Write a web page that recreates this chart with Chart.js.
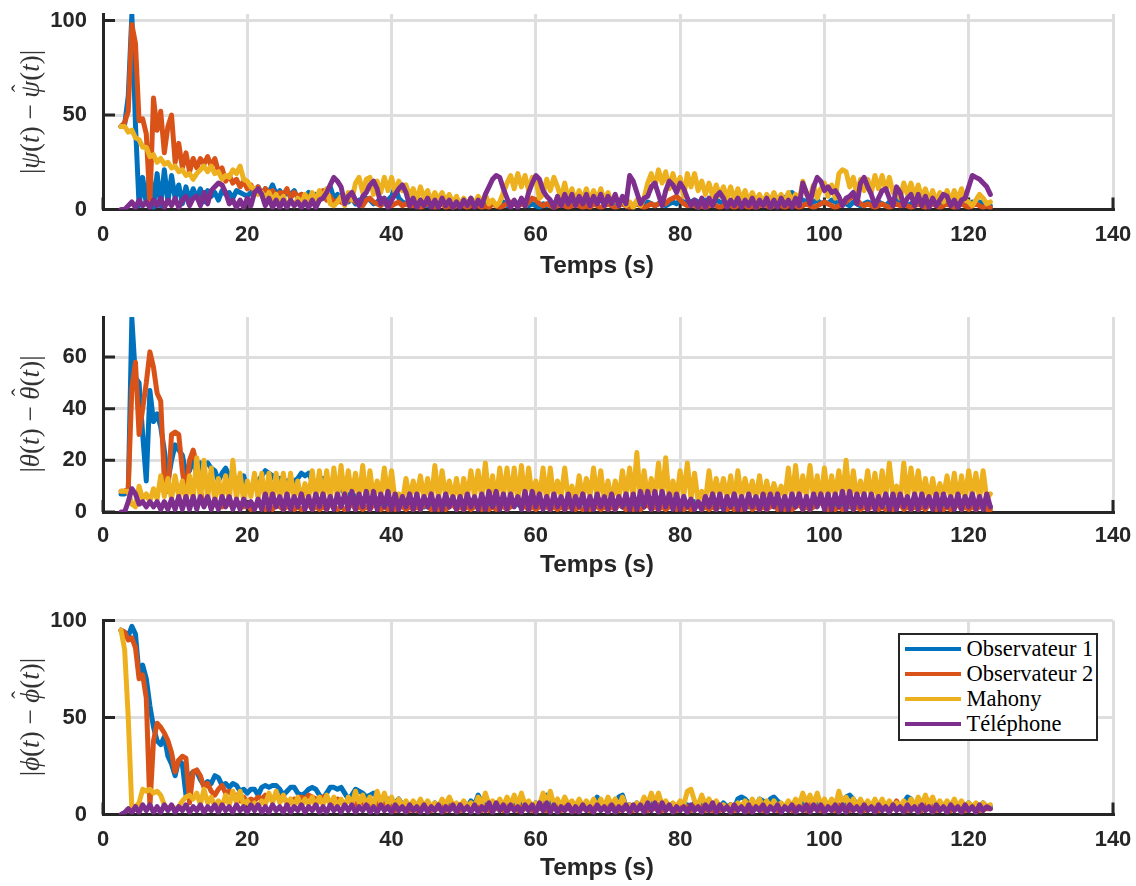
<!DOCTYPE html>
<html>
<head>
<meta charset="utf-8">
<script src="https://cdn.jsdelivr.net/npm/chart.js@4.4.0/dist/chart.umd.min.js"></script>
<style>
  html, body { margin: 0; padding: 0; background: #fff; }
  #wrap { position: relative; width: 1136px; height: 886px; overflow: hidden; }
  #wrap canvas { position: absolute; left: 0; }
  #legend {
    position: absolute; left: 898px; top: 633px; width: 200px; height: 108px;
    box-sizing: border-box; border: 2.5px solid #262626; background: #fff;
    font-family: 'Liberation Serif', 'DejaVu Serif', serif; font-size: 22.5px; color: #000;
    padding-top: 1px;
  }
  #legend .row { display: flex; align-items: center; height: 25px; }
  #legend .sw { width: 56px; height: 4px; margin-left: 4.5px; margin-right: 6px; }
  .ylab {
    position: absolute; left: 30px; white-space: nowrap;
    transform: translate(-50%, -50%) rotate(-90deg);
    font-family: 'Liberation Serif', 'DejaVu Serif', serif; font-size: 27px; color: #333;
    line-height: 1;
  }
  .ylab .hat { position: relative; display: inline-block; }
  .ylab .hat::before {
    content: '\02C6'; position: absolute; left: 55%; top: -0.32em;
    transform: translateX(-50%); font-style: normal; font-size: 0.85em;
  }
  .xlab {
    position: absolute; left: 597px; white-space: nowrap;
    transform: translate(-50%, -50%);
    font-family: 'Liberation Sans', Arial, sans-serif; font-weight: bold; font-size: 24.5px;
    color: #262626; line-height: 1;
  }
</style>
</head>
<body>
<div id="wrap">
  <canvas id="psi" width="1136" height="295" style="top:0px"></canvas>
  <canvas id="theta" width="1136" height="295" style="top:295px"></canvas>
  <canvas id="phi" width="1136" height="296" style="top:590px"></canvas>
  <div class="ylab" style="top:112px">|<i>ψ</i>(<i>t</i>) − <span class="hat"><i>ψ</i></span>(<i>t</i>)|</div>
  <div class="ylab" style="top:414px">|<i>θ</i>(<i>t</i>) − <span class="hat"><i>θ</i></span>(<i>t</i>)|</div>
  <div class="ylab" style="top:717px">|<i>ϕ</i>(<i>t</i>) − <span class="hat"><i>ϕ</i></span>(<i>t</i>)|</div>
  <div class="xlab" style="top:265px">Temps (s)</div>
  <div class="xlab" style="top:564px">Temps (s)</div>
  <div class="xlab" style="top:867px">Temps (s)</div>
  <div id="legend"></div>
</div>
<script>
// samples every 0.5 s, first one at t = 2.5 s (rows below = 10 s each, from t = 3)
const tStart = 2.5, tStep = 0.5;

const seriesNames = ['Observateur 1', 'Observateur 2', 'Mahony', 'Téléphone'];
const xTicks = [0, 20, 40, 60, 80, 100, 120, 140];
const psiTicks = [0, 50, 100];
const thetaTicks = [0, 20, 40, 60];
const phiTicks = [0, 50, 100];

// |psi - psi_hat|
const psiObs1 = [44,
  45, 60, 103, 45, 2, 17, 3, 20, 1, 19, 2, 21, 4, 18, 6, 13, 3, 12, 5, 11,
  6, 11, 4, 10, 7, 9, 5, 10, 8, 9, 6, 10, 9, 8, 7, 9, 10, 12, 8, 11,
  9, 13, 8, 10, 7, 9, 8, 10, 6, 8, 7, 9, 5, 8, 6, 7, 9, 12, 6, 8,
  5, 7, 4, 6, 3, 5, 4, 6, 5, 3, 4, 6, 3, 5, 7, 12, 6, 4, 3, 5,
  4, 3, 5, 4, 2, 4, 3, 5, 6, 4, 3, 2, 4, 3, 5, 4, 3, 2, 4, 3,
  2, 4, 3, 2, 3, 4, 2, 3, 4, 3, 5, 4, 2, 3, 2, 1, 3, 2, 4, 3,
  4, 3, 2, 4, 3, 5, 4, 3, 2, 4, 3, 4, 5, 3, 4, 2, 3, 4, 3, 2,
  3, 2, 4, 3, 2, 4, 3, 2, 3, 4, 2, 3, 4, 3, 5, 4, 3, 4, 5, 4,
  4, 5, 3, 4, 5, 4, 3, 5, 4, 6, 5, 4, 6, 5, 4, 5, 6, 5, 4, 6,
  5, 6, 7, 6, 8, 9, 7, 6, 5, 4, 3, 4, 5, 3, 4, 3, 5, 4, 3, 4,
  3, 2, 4, 3, 2, 3, 4, 3, 2, 4, 3, 2, 4, 3, 5, 4, 3, 2, 3, 4,
  3, 4, 3, 2, 4, 3, 2, 3, 4, 3, 2, 3, 4, 3, 2, 4, 3, 4, 3, 2,
  2];
const psiObs2 = [44,
  46, 52, 98, 88, 47, 48, 40, 3, 59, 42, 52, 30, 44, 50, 25, 35, 22, 30, 20, 27,
  22, 27, 24, 28, 23, 27, 20, 22, 15, 18, 14, 16, 12, 15, 11, 13, 9, 12, 8, 11,
  9, 10, 7, 9, 8, 11, 6, 9, 7, 8, 5, 7, 4, 6, 8, 10, 5, 7, 3, 5,
  4, 3, 5, 6, 4, 3, 2, 5, 6, 4, 3, 2, 4, 3, 2, 3, 4, 2, 3, 2,
  2, 3, 1, 2, 3, 2, 1, 2, 3, 1, 2, 1, 2, 3, 2, 1, 2, 3, 2, 1,
  2, 1, 3, 2, 1, 2, 3, 4, 3, 2, 3, 2, 4, 6, 5, 3, 2, 3, 2, 1,
  2, 3, 2, 1, 2, 3, 2, 1, 2, 1, 3, 2, 1, 2, 3, 2, 1, 2, 3, 2,
  1, 2, 3, 2, 1, 2, 3, 2, 3, 4, 3, 5, 6, 7, 5, 3, 2, 3, 2, 1,
  2, 1, 2, 3, 2, 1, 2, 3, 2, 1, 2, 3, 2, 1, 2, 1, 2, 3, 2, 1,
  2, 3, 2, 1, 2, 3, 2, 1, 2, 3, 2, 1, 2, 3, 4, 3, 2, 1, 2, 3,
  4, 6, 7, 5, 3, 2, 3, 2, 1, 2, 3, 2, 1, 2, 3, 2, 3, 2, 1, 2,
  3, 2, 1, 2, 3, 2, 1, 2, 3, 2, 1, 2, 3, 2, 1, 2, 3, 2, 1, 2,
  1];
const psiMahony = [44,
  44, 41, 42, 38, 37, 33, 33, 28, 29, 25, 27, 24, 25, 22, 23, 20, 21, 18, 19, 16,
  19, 21, 23, 20, 23, 19, 20, 16, 18, 17, 21, 19, 23, 16, 15, 12, 11, 8, 9, 6,
  9, 4, 8, 3, 7, 2, 5, 2, 6, 3, 8, 4, 9, 5, 10, 6, 11, 3, 2, 4,
  7, 2, 9, 5, 14, 17, 9, 16, 17, 8, 15, 9, 17, 10, 17, 9, 15, 10, 13, 7,
  11, 5, 12, 6, 10, 4, 9, 5, 9, 4, 8, 3, 7, 2, 6, 2, 6, 3, 7, 3,
  8, 3, 5, 2, 4, 9, 14, 18, 11, 19, 12, 18, 10, 17, 16, 6, 8, 16, 10, 17,
  12, 6, 14, 5, 11, 4, 10, 5, 11, 4, 10, 5, 11, 4, 9, 3, 7, 2, 6, 2,
  4, 1, 5, 2, 6, 14, 19, 12, 21, 14, 20, 11, 19, 12, 17, 7, 19, 12, 19, 10,
  15, 8, 14, 7, 13, 7, 12, 6, 12, 5, 11, 5, 10, 4, 9, 4, 8, 3, 8, 4,
  9, 4, 8, 3, 9, 4, 8, 4, 15, 8, 7, 13, 6, 11, 14, 7, 13, 6, 19, 21,
  20, 12, 17, 8, 16, 10, 16, 9, 18, 11, 18, 10, 17, 9, 10, 6, 14, 8, 14, 7,
  13, 6, 11, 4, 10, 4, 9, 4, 10, 4, 10, 5, 11, 5, 4, 2, 5, 8, 6, 3,
  4];
const psiPhone = [0,
  0, 2, 4, 1, 5, 2, 4, 1, 5, 2, 6, 1, 5, 2, 6, 1, 5, 7, 2, 6,
  7, 2, 9, 3, 10, 12, 14, 13, 9, 3, 5, 1, 5, 1, 6, 2, 9, 11, 8, 2,
  6, 1, 5, 1, 5, 1, 5, 2, 4, 1, 4, 1, 5, 1, 5, 6, 9, 13, 17, 15,
  12, 3, 7, 9, 5, 2, 7, 9, 13, 15, 11, 3, 6, 1, 5, 8, 11, 13, 9, 2,
  6, 1, 5, 2, 6, 1, 5, 1, 6, 2, 5, 1, 4, 1, 5, 2, 6, 1, 5, 2,
  8, 12, 16, 18, 17, 11, 6, 1, 5, 1, 6, 2, 9, 14, 18, 16, 10, 7, 5, 1,
  7, 2, 8, 3, 8, 2, 7, 3, 8, 2, 7, 3, 8, 2, 7, 3, 8, 2, 7, 3,
  18, 15, 9, 3, 6, 7, 12, 14, 8, 2, 10, 15, 13, 9, 14, 11, 6, 2, 5, 1,
  6, 1, 6, 2, 7, 9, 6, 1, 5, 2, 6, 1, 5, 2, 6, 1, 5, 2, 6, 1,
  5, 1, 6, 2, 5, 1, 6, 2, 14, 9, 3, 12, 17, 15, 10, 12, 9, 10, 7, 2,
  6, 7, 9, 3, 14, 17, 12, 8, 2, 6, 10, 11, 6, 2, 12, 9, 2, 6, 8, 2,
  8, 2, 7, 1, 6, 2, 5, 8, 7, 2, 5, 1, 5, 6, 12, 18, 17, 16, 14, 12,
  8];

// |theta - theta_hat|
const thetaObs1 = [7,
  7, 8, 75, 52, 50, 30, 12, 47, 35, 38, 33, 24, 12, 20, 26, 24, 22, 15, 16, 21,
  14, 19, 18, 19, 17, 16, 12, 15, 17, 14, 11, 13, 12, 14, 9, 8, 10, 12, 14, 16,
  15, 14, 12, 13, 11, 12, 10, 12, 13, 15, 14, 15, 12, 10, 11, 13, 12, 10, 11, 12,
  9, 7, 6, 8, 5, 6, 4, 5, 3, 4, 5, 3, 4, 2, 3, 4, 3, 2, 4, 3,
  2, 3, 4, 2, 3, 2, 4, 3, 2, 3, 2, 4, 3, 2, 3, 2, 3, 4, 2, 3,
  3, 2, 4, 3, 2, 3, 2, 3, 4, 3, 2, 3, 2, 4, 3, 2, 3, 2, 3, 4,
  2, 3, 2, 4, 3, 2, 3, 4, 2, 3, 2, 3, 4, 2, 3, 2, 4, 3, 2, 3,
  3, 4, 2, 3, 2, 4, 3, 2, 3, 4, 2, 3, 2, 3, 4, 2, 3, 2, 4, 3,
  2, 3, 4, 2, 3, 2, 3, 4, 2, 3, 4, 2, 3, 2, 3, 4, 2, 3, 2, 3,
  4, 2, 3, 2, 4, 3, 2, 3, 2, 4, 3, 2, 3, 4, 2, 3, 2, 3, 4, 2,
  3, 2, 4, 3, 2, 3, 2, 4, 3, 2, 3, 4, 2, 3, 2, 3, 4, 2, 3, 2,
  3, 4, 2, 3, 2, 3, 4, 2, 3, 2, 4, 3, 2, 3, 2, 4, 3, 2, 3, 2,
  2];
const thetaObs2 = [8,
  8, 9, 48, 58, 30, 40, 50, 62, 56, 46, 43, 12, 8, 30, 31, 30, 16, 6, 20, 24,
  18, 8, 3, 5, 2, 4, 3, 2, 4, 3, 2, 4, 3, 2, 3, 1, 2, 3, 2, 1,
  2, 1, 3, 2, 1, 2, 3, 1, 2, 1, 2, 3, 1, 2, 1, 2, 1, 3, 2, 1,
  2, 1, 2, 3, 1, 2, 1, 2, 1, 3, 2, 1, 2, 1, 2, 1, 3, 2, 1, 2,
  1, 2, 1, 3, 2, 1, 2, 1, 2, 1, 2, 3, 1, 2, 1, 2, 1, 2, 3, 1,
  2, 1, 2, 1, 3, 2, 1, 2, 3, 4, 3, 2, 1, 2, 1, 2, 3, 2, 1, 2,
  1, 2, 1, 2, 3, 1, 2, 1, 2, 1, 3, 2, 1, 2, 1, 2, 1, 3, 2, 1,
  2, 1, 2, 1, 2, 3, 1, 2, 1, 2, 1, 2, 3, 1, 2, 1, 2, 1, 2, 3,
  1, 2, 1, 2, 1, 3, 2, 1, 2, 1, 2, 1, 2, 3, 1, 2, 1, 2, 1, 2,
  3, 1, 2, 1, 2, 1, 2, 3, 1, 2, 1, 2, 3, 4, 2, 1, 2, 1, 2, 1,
  2, 3, 1, 2, 1, 2, 1, 2, 3, 1, 2, 1, 2, 1, 2, 3, 1, 2, 1, 2,
  1, 2, 1, 3, 2, 1, 2, 1, 2, 1, 2, 3, 1, 2, 1, 2, 1, 2, 3, 1,
  1];
const thetaMahony = [8,
  8, 8, 3, 2, 10, 5, 7, 4, 9, 5, 14, 6, 13, 5, 14, 6, 12, 4, 14, 5,
  21, 4, 20, 5, 17, 4, 13, 5, 14, 4, 20, 5, 15, 4, 12, 6, 15, 5, 15, 4,
  15, 4, 15, 5, 15, 4, 15, 5, 12, 4, 11, 5, 16, 5, 16, 4, 16, 5, 17, 5,
  18, 5, 16, 6, 15, 5, 18, 4, 16, 5, 12, 6, 17, 5, 16, 4, 7, 4, 13, 5,
  12, 6, 14, 5, 13, 4, 18, 5, 16, 6, 12, 5, 13, 4, 13, 5, 16, 6, 16, 5,
  19, 5, 14, 4, 17, 6, 17, 5, 17, 4, 18, 5, 17, 6, 12, 5, 17, 4, 17, 5,
  12, 6, 17, 5, 10, 4, 14, 5, 13, 6, 17, 5, 16, 4, 12, 4, 12, 5, 16, 6,
  17, 5, 23, 4, 16, 5, 13, 6, 19, 5, 21, 4, 12, 5, 16, 6, 19, 5, 15, 4,
  8, 4, 16, 5, 13, 6, 13, 5, 14, 4, 16, 5, 13, 6, 12, 5, 14, 4, 12, 5,
  11, 6, 10, 5, 17, 4, 18, 5, 14, 6, 18, 5, 14, 4, 17, 5, 14, 6, 16, 5,
  20, 4, 16, 5, 12, 6, 16, 5, 15, 4, 16, 5, 19, 6, 10, 4, 19, 5, 17, 6,
  16, 5, 13, 4, 13, 5, 11, 6, 14, 5, 15, 4, 14, 5, 16, 6, 15, 5, 16, 5,
  7];
const thetaPhone = [0,
  0, 4, 9, 7, 3, 4, 2, 4, 2, 4, 1, 4, 1, 5, 1, 6, 1, 6, 1, 6,
  1, 6, 2, 6, 1, 5, 1, 6, 2, 6, 1, 5, 1, 5, 2, 4, 1, 5, 1, 7,
  1, 7, 2, 6, 1, 7, 1, 6, 2, 7, 1, 6, 1, 7, 2, 7, 1, 6, 1, 7,
  2, 7, 1, 8, 1, 7, 2, 8, 1, 8, 1, 7, 2, 8, 1, 7, 1, 6, 2, 7,
  1, 7, 1, 6, 2, 7, 1, 6, 1, 7, 2, 6, 1, 6, 1, 7, 2, 6, 1, 7,
  1, 8, 2, 8, 1, 7, 1, 7, 2, 6, 1, 8, 1, 8, 2, 7, 1, 6, 1, 7,
  2, 6, 1, 7, 1, 6, 2, 7, 1, 6, 1, 7, 2, 6, 1, 7, 1, 6, 2, 7,
  1, 7, 1, 8, 2, 8, 1, 8, 1, 8, 2, 7, 1, 7, 1, 6, 2, 5, 1, 4,
  1, 6, 2, 7, 1, 7, 1, 6, 2, 7, 1, 6, 1, 7, 2, 6, 1, 7, 1, 7,
  2, 7, 1, 6, 1, 7, 2, 7, 1, 6, 1, 7, 2, 7, 1, 7, 1, 7, 2, 8,
  1, 8, 1, 7, 2, 7, 1, 7, 1, 6, 2, 7, 1, 7, 1, 7, 2, 6, 1, 7,
  1, 7, 2, 6, 1, 7, 1, 7, 2, 6, 1, 7, 1, 6, 2, 7, 1, 6, 1, 7,
  2];

// |phi - phi_hat|
const phiObs1 = [95,
  94, 92, 97, 93, 72, 77, 70, 56, 45, 38, 36, 40, 30, 26, 20, 28, 26, 10, 20, 22,
  22, 18, 15, 17, 16, 20, 19, 15, 16, 14, 16, 15, 12, 13, 11, 13, 13, 10, 14, 15,
  14, 15, 15, 13, 10, 12, 14, 14, 11, 10, 11, 13, 14, 13, 10, 8, 11, 14, 14, 13,
  14, 11, 8, 10, 13, 12, 11, 9, 10, 11, 9, 8, 7, 8, 7, 6, 8, 5, 6, 4,
  5, 3, 6, 4, 5, 3, 6, 4, 5, 3, 6, 4, 5, 3, 6, 4, 7, 5, 10, 6,
  5, 3, 6, 4, 5, 3, 6, 4, 5, 3, 6, 4, 5, 3, 6, 4, 9, 10, 6, 4,
  5, 3, 6, 4, 5, 3, 6, 4, 5, 3, 6, 9, 5, 3, 6, 4, 5, 9, 10, 4,
  5, 3, 6, 4, 5, 3, 6, 4, 5, 3, 6, 4, 5, 3, 6, 4, 5, 3, 6, 4,
  5, 3, 6, 4, 5, 3, 6, 4, 5, 3, 8, 9, 8, 6, 5, 3, 8, 7, 5, 8,
  9, 7, 5, 3, 6, 4, 5, 3, 6, 4, 5, 3, 6, 4, 5, 3, 6, 4, 5, 3,
  9, 10, 8, 5, 6, 4, 5, 3, 6, 4, 5, 3, 6, 4, 5, 3, 6, 9, 8, 4,
  5, 3, 6, 4, 5, 3, 6, 4, 5, 3, 6, 4, 5, 3, 6, 4, 5, 3, 6, 4,
  4];
const phiObs2 = [95,
  94, 90, 91, 86, 70, 72, 60, 4, 38, 47, 45, 42, 38, 32, 22, 28, 30, 29, 6, 22,
  23, 20, 14, 16, 12, 10, 13, 15, 11, 12, 9, 10, 7, 9, 6, 8, 7, 9, 8, 10,
  9, 8, 10, 9, 8, 7, 6, 8, 7, 9, 8, 10, 9, 8, 7, 9, 8, 7, 6, 8,
  7, 5, 8, 6, 5, 7, 6, 4, 5, 3, 6, 4, 5, 3, 4, 2, 5, 3, 4, 2,
  4, 2, 5, 3, 4, 2, 4, 3, 5, 2, 4, 3, 5, 2, 4, 3, 6, 3, 4, 2,
  4, 2, 5, 3, 4, 2, 5, 3, 4, 2, 4, 3, 5, 2, 4, 3, 5, 2, 4, 3,
  4, 2, 5, 3, 4, 2, 4, 3, 5, 2, 4, 3, 5, 3, 6, 3, 4, 2, 5, 3,
  4, 2, 4, 3, 5, 2, 4, 3, 5, 2, 4, 3, 4, 2, 5, 3, 4, 2, 5, 3,
  4, 2, 4, 2, 3, 2, 4, 3, 5, 2, 4, 3, 5, 2, 4, 3, 5, 2, 4, 3,
  4, 2, 5, 3, 4, 2, 5, 3, 4, 2, 5, 3, 4, 2, 5, 3, 4, 2, 5, 3,
  4, 2, 5, 3, 4, 2, 4, 3, 5, 2, 4, 3, 5, 3, 7, 3, 4, 2, 5, 3,
  4, 2, 5, 3, 4, 2, 4, 3, 5, 2, 4, 3, 5, 2, 4, 3, 4, 2, 5, 3,
  3];
const phiMahony = [95,
  85, 50, 3, 4, 6, 13, 12, 13, 11, 12, 10, 5, 3, 4, 3, 4, 7, 9, 10, 8,
  11, 5, 13, 6, 9, 4, 7, 4, 10, 5, 12, 6, 12, 5, 7, 4, 6, 4, 7, 5,
  11, 6, 12, 6, 10, 5, 8, 4, 9, 4, 8, 5, 9, 4, 9, 5, 10, 5, 9, 4,
  8, 4, 9, 5, 12, 6, 10, 5, 9, 4, 12, 6, 11, 5, 9, 4, 8, 4, 7, 4,
  7, 4, 8, 4, 7, 4, 6, 4, 8, 5, 9, 5, 6, 4, 7, 4, 6, 4, 9, 5,
  11, 5, 7, 4, 8, 4, 9, 5, 10, 5, 11, 5, 7, 4, 6, 5, 11, 6, 12, 5,
  8, 4, 9, 5, 7, 4, 8, 4, 7, 4, 8, 4, 8, 4, 9, 5, 8, 4, 9, 4,
  5, 3, 6, 4, 9, 5, 11, 6, 11, 5, 7, 4, 6, 4, 7, 5, 12, 13, 7, 5,
  10, 5, 8, 4, 7, 4, 5, 3, 5, 4, 6, 4, 7, 4, 8, 4, 8, 4, 7, 4,
  7, 4, 6, 4, 7, 4, 8, 5, 11, 6, 10, 5, 11, 5, 8, 4, 8, 4, 12, 6,
  9, 5, 8, 4, 8, 4, 7, 4, 8, 4, 8, 4, 7, 4, 6, 4, 7, 4, 8, 4,
  9, 5, 10, 5, 9, 4, 7, 4, 7, 4, 8, 4, 7, 4, 6, 4, 6, 4, 6, 4,
  5];
const phiPhone = [0,
  1, 3, 1, 4, 1, 5, 2, 5, 1, 4, 1, 5, 2, 5, 1, 4, 2, 5, 1, 4,
  2, 5, 1, 4, 2, 5, 1, 5, 2, 4, 1, 5, 2, 4, 1, 5, 2, 5, 1, 4,
  1, 5, 2, 4, 1, 5, 1, 4, 2, 5, 1, 4, 2, 5, 1, 4, 1, 5, 2, 4,
  1, 5, 2, 5, 1, 4, 2, 5, 1, 4, 1, 5, 2, 4, 1, 5, 2, 4, 1, 5,
  2, 4, 1, 5, 1, 4, 2, 5, 1, 4, 2, 5, 1, 5, 2, 4, 1, 5, 1, 4,
  2, 6, 1, 6, 2, 5, 1, 5, 2, 4, 1, 5, 2, 5, 1, 6, 2, 6, 1, 5,
  1, 4, 2, 5, 1, 4, 1, 5, 2, 4, 1, 5, 2, 4, 1, 5, 1, 4, 2, 5,
  1, 5, 2, 5, 1, 6, 2, 6, 1, 6, 2, 5, 1, 4, 2, 4, 1, 5, 2, 4,
  1, 5, 2, 6, 1, 5, 2, 4, 1, 5, 2, 4, 1, 5, 1, 4, 2, 5, 1, 4,
  2, 5, 1, 4, 2, 5, 1, 4, 2, 5, 1, 5, 2, 5, 1, 4, 2, 5, 1, 5,
  1, 5, 2, 4, 1, 5, 2, 4, 1, 5, 2, 4, 1, 5, 2, 4, 1, 5, 2, 4,
  1, 5, 2, 4, 1, 5, 2, 4, 1, 5, 2, 4, 1, 5, 2, 4, 1, 5, 2, 4,
  3];

const colors = ['#0072BD', '#D95319', '#EDB120', '#7E2F8E'];
const ink = '#262626';
const tickFont = { family: "'Liberation Sans', Arial, sans-serif", size: 22, weight: 'bold' };

const toPoints = vals => vals.map((v, i) => ({ x: tStart + i * tStep, y: v }));

// MATLAB style ticks: drawn inside the axes, under the data
const innerTicks = {
  id: 'innerTicks',
  beforeDatasetsDraw(chart) {
    const { ctx, chartArea: a, scales: { x, y } } = chart;
    ctx.save();
    ctx.strokeStyle = ink;
    ctx.lineWidth = 3;
    ctx.beginPath();
    y.ticks.forEach(tk => {
      const py = y.getPixelForValue(tk.value);
      ctx.moveTo(a.left, py); ctx.lineTo(a.left + 12, py);
    });
    x.ticks.forEach(tk => {
      const px = x.getPixelForValue(tk.value);
      ctx.moveTo(px, a.bottom); ctx.lineTo(px, a.bottom - 12);
    });
    ctx.stroke();
    ctx.restore();
  }
};

function makeChart(id, series, cfg) {
  const canvas = document.getElementById(id);
  return new Chart(canvas.getContext('2d'), {
    type: 'line',
    data: {
      datasets: series.map((vals, i) => ({
        label: seriesNames[i],
        data: toPoints(vals),
        borderColor: colors[i],
        backgroundColor: colors[i],
        order: 4 - i
      }))
    },
    options: {
      responsive: false,
      animation: false,
      events: [],
      layout: { padding: { top: cfg.padTop, right: 23, bottom: 0, left: 0 } },
      plugins: { legend: { display: false }, tooltip: { enabled: false } },
      elements: {
        point: { radius: 0 },
        line: { borderWidth: 5, tension: 0, borderJoinStyle: 'round', borderCapStyle: 'round' }
      },
      scales: {
        x: {
          type: 'linear', min: 0, max: 140,
          afterBuildTicks: s => { s.ticks = xTicks.map(v => ({ value: v })); },
          afterFit: s => { s.height = cfg.xHeight; s.paddingLeft = 0; s.paddingRight = 0; },
          grid: { color: '#dedede', lineWidth: 3, drawTicks: false },
          border: { display: true, color: ink, width: 3 },
          ticks: { padding: cfg.tickPad, color: ink, font: tickFont, maxRotation: 0 }
        },
        y: {
          type: 'linear', min: 0, max: cfg.yMax,
          afterBuildTicks: s => { s.ticks = cfg.yTicks.map(v => ({ value: v })); },
          afterFit: s => { s.width = 103; s.paddingTop = 0; s.paddingBottom = 0; },
          grid: { color: '#dedede', lineWidth: 3, drawTicks: false },
          border: { display: true, color: ink, width: 3 },
          ticks: { padding: 16, color: ink, font: tickFont }
        }
      }
    },
    plugins: [innerTicks]
  });
}

makeChart('psi', [psiObs1, psiObs2, psiMahony, psiPhone], {
  padTop: 14, xHeight: 85.5, tickPad: 12, yMax: 103.5, yTicks: psiTicks
});
makeChart('theta', [thetaObs1, thetaObs2, thetaMahony, thetaPhone], {
  padTop: 22, xHeight: 78, tickPad: 11, yMax: 75.5, yTicks: thetaTicks
});
makeChart('phi', [phiObs1, phiObs2, phiMahony, phiPhone], {
  padTop: 30.5, xHeight: 71.5, tickPad: 12.5, yMax: 100, yTicks: phiTicks
});

// legend box drawn over the bottom plot, as in the original figure
const legend = document.getElementById('legend');
seriesNames.forEach((name, i) => {
  const row = document.createElement('div');
  row.className = 'row';
  const sw = document.createElement('span');
  sw.className = 'sw';
  sw.style.background = colors[i];
  const txt = document.createElement('span');
  txt.textContent = name;
  row.appendChild(sw);
  row.appendChild(txt);
  legend.appendChild(row);
});
</script>
</body>
</html>
